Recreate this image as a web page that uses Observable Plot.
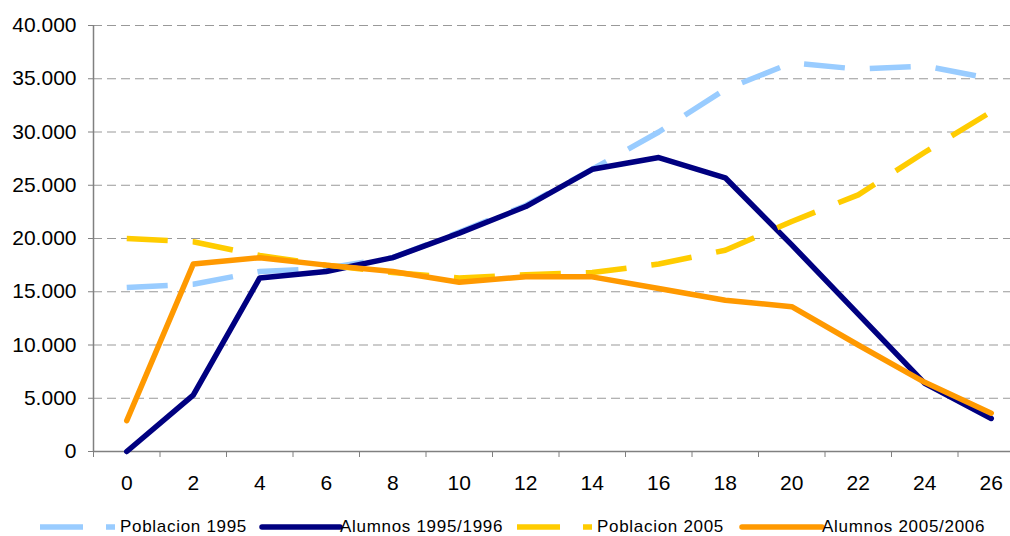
<!DOCTYPE html>
<html><head><meta charset="utf-8">
<script src="https://cdn.jsdelivr.net/npm/d3@7"></script>
<script src="https://cdn.jsdelivr.net/npm/@observablehq/plot@0.6"></script>
<style>
html,body{margin:0;padding:0;background:#fff;overflow:hidden;}
#wrap{position:relative;width:1010px;height:536px;overflow:hidden;background:#fff;}
#chart{position:absolute;left:0;top:0;width:1030px;}
#chart svg{max-width:none !important;}
#legend{position:absolute;left:0;top:505px;}
</style></head><body><div id="wrap"><div id="chart"></div><div id="legend"></div></div>
<script>
// ---- data ----
const ages = [0, 2, 4, 6, 8, 10, 12, 14, 16, 18, 20, 22, 24, 26];
const poblacion1995 = [15400, 15700, 16900, 17200, 18200, 20600, 23100, 26500, 30000, 34000, 36500, 35900, 36200, 35000];
const alumnos1995 = [0, 5300, 16300, 16900, 18200, 20500, 23000, 26500, 27600, 25700, 19400, 12900, 6400, 3100];
const poblacion2005 = [20000, 19700, 18400, 17500, 16800, 16300, 16600, 16800, 17600, 18900, 21600, 24100, 28100, 31900];
const alumnos2005 = [2900, 17600, 18200, 17500, 16900, 15900, 16400, 16400, 15300, 14200, 13600, 10000, 6500, 3600];
const seriesNames = ["Poblacion 1995", "Alumnos 1995/1996", "Poblacion 2005", "Alumnos 2005/2006"];
const yTicks = [0, 5000, 10000, 15000, 20000, 25000, 30000, 35000, 40000];

// ---- styling ----
const seriesStyle = [
  {values: poblacion1995, color: "#99CCFF", dashed: true},
  {values: alumnos1995, color: "#000080", dashed: false},
  {values: poblacion2005, color: "#FFCC00", dashed: true},
  {values: alumnos2005, color: "#FF9900", dashed: false}
];
const locale = d3.formatLocale({decimal: ",", thousands: ".", grouping: [3], currency: ["", ""]});
const fmt = locale.format(",");
const step = ages[1] - ages[0];
const bounds = ages.map(a => a - step / 2).concat([ages[ages.length - 1] + step / 2]);

const lineMarks = seriesStyle.map(s => Plot.line(ages.map((a, i) => ({age: a, v: s.values[i]})), {
  x: "age", y: "v", stroke: s.color, strokeWidth: 5.5,
  strokeDasharray: s.dashed ? "41,25" : null,
  strokeLinecap: s.dashed ? "butt" : "round",
  strokeLinejoin: "round"
}));

const plot = Plot.plot({
  width: 1030, height: 505,
  marginLeft: 93, marginRight: 6, marginTop: 25, marginBottom: 54,
  style: {fontFamily: "'Liberation Sans', Arial, sans-serif", fontSize: "21px", color: "#000", background: "#fff", maxWidth: "none"},
  x: {type: "linear", domain: [bounds[0], bounds[bounds.length - 1]]},
  y: {domain: [0, 40000]},
  marks: [
    Plot.ruleY(yTicks.filter(d => d > 0), {stroke: "#999", strokeWidth: 1, strokeDasharray: "9,5"}),
    Plot.axisY({ticks: yTicks, tickFormat: fmt, tickSize: 5, tickPadding: 12, stroke: "#808080", strokeOpacity: 1, label: null, fontSize: 21}),
    Plot.axisX({ticks: bounds, tickSize: 6, tickFormat: () => "", stroke: "#808080", strokeOpacity: 1, label: null}),
    Plot.axisX({ticks: ages, tickSize: 0, tickPadding: 24, tickFormat: d => String(d), label: null, fontSize: 21}),
    Plot.ruleX([bounds[0]], {stroke: "#808080", strokeWidth: 1.5}),
    Plot.ruleY([0], {stroke: "#808080", strokeWidth: 1.5}),
    ...lineMarks
  ]
});
document.getElementById("chart").appendChild(plot);

// ---- legend ----
const legendLayout = [
  {sx: 40, ex: 115, tx: 120},
  {sx: 262, ex: 340, tx: 340},
  {sx: 517, ex: 592, tx: 597},
  {sx: 742, ex: 822, tx: 822}
];
const lg = d3.select("#legend").append("svg").attr("width", 1010).attr("height", 31)
  .style("font-family", "'Liberation Sans', Arial, sans-serif");
seriesNames.forEach((name, i) => {
  const s = seriesStyle[i], L = legendLayout[i];
  lg.append("line").attr("x1", L.sx).attr("x2", L.ex).attr("y1", 22).attr("y2", 22)
    .attr("stroke", s.color).attr("stroke-width", 5.5)
    .attr("stroke-dasharray", s.dashed ? "43,23" : null)
    .attr("stroke-linecap", s.dashed ? "butt" : "round");
  lg.append("text").attr("x", L.tx).attr("y", 26.5).attr("font-size", 17)
    .attr("letter-spacing", "0.7px").attr("fill", "#000").text(name);
});
</script>
</body></html>
